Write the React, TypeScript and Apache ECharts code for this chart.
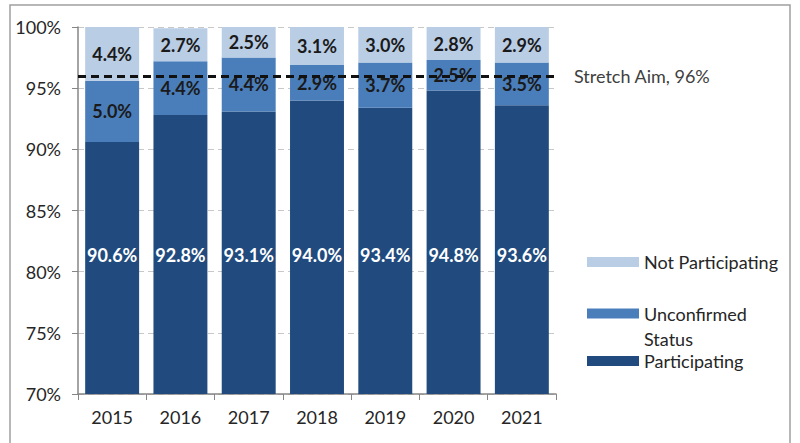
import React, { useEffect, useRef } from "react";
import * as echarts from "echarts";

const years = ["2015", "2016", "2017", "2018", "2019", "2020", "2021"];
const participating = [90.6, 92.8, 93.1, 94.0, 93.4, 94.8, 93.6];
const unconfirmed = [5.0, 4.4, 4.4, 2.9, 3.7, 2.5, 3.5];
const notParticipating = [4.4, 2.7, 2.5, 3.1, 3.0, 2.8, 2.9];
const stretchAim = 96;

const FONT = "Lato, 'Open Sans', sans-serif";
const C_DARK = "#214b7e";
const C_MID = "#4a7ebb";
const C_LIGHT = "#b9cde5";
const FS = 18;

export default function App() {
  const ref = useRef<HTMLDivElement>(null);
  useEffect(() => {
    if (!ref.current) return;
    const chart = echarts.init(ref.current, null, { renderer: "svg" });
    const fmt = (p: any) => Number(p.value).toFixed(1) + "%";
    const legendText = { fontFamily: FONT, fontSize: FS, color: "#262626" };
    chart.setOption({
      animation: false,
      textStyle: { fontFamily: FONT },
      grid: { left: 78, right: 244, top: 27, bottom: 49, containLabel: false },
      graphic: [
        {
          type: "rect",
          shape: { x: 10, y: 5, width: 780, height: 460 },
          style: { fill: "none", stroke: "#a0a0a0", lineWidth: 1.5 },
          silent: true,
        },
      ],
      legend: [
        {
          data: ["Not Participating"],
          orient: "vertical",
          left: 587,
          top: 253,
          padding: 0,
          itemWidth: 52,
          itemHeight: 10,
          icon: "rect",
          textStyle: legendText,
        },
        {
          data: ["Unconfirmed Status"],
          orient: "vertical",
          left: 587,
          top: 276,
          padding: 0,
          itemWidth: 52,
          itemHeight: 10,
          icon: "rect",
          formatter: () => "\nUnconfirmed\nStatus",
          textStyle: { ...legendText, lineHeight: 25 },
        },
        {
          data: ["Participating"],
          orient: "vertical",
          left: 587,
          top: 352,
          padding: 0,
          itemWidth: 52,
          itemHeight: 10,
          icon: "rect",
          textStyle: legendText,
        },
      ],
      xAxis: {
        type: "category",
        data: years,
        axisLine: { lineStyle: { color: "#868686", width: 1.5 } },
        axisTick: { show: true, length: 6, lineStyle: { color: "#868686" } },
        axisLabel: { fontFamily: FONT, fontSize: FS, color: "#262626", margin: 14 },
      },
      yAxis: {
        type: "value",
        min: 70,
        max: 100,
        interval: 5,
        axisLine: { show: true, lineStyle: { color: "#868686", width: 1.5 } },
        axisTick: { show: true, length: 6, lineStyle: { color: "#868686" } },
        axisLabel: {
          fontFamily: FONT,
          fontSize: FS,
          color: "#262626",
          margin: 17,
          formatter: (v: number) => v + "%",
        },
        splitLine: { show: true, lineStyle: { color: "#c8c8c8", type: [6, 4] } },
      },
      series: [
        {
          name: "Participating",
          type: "bar",
          stack: "s",
          data: participating,
          barCategoryGap: "21%",
          itemStyle: { color: C_DARK },
          label: {
            show: true,
            position: "insideBottom",
            distance: 130,
            formatter: fmt,
            color: "#ffffff",
            fontWeight: "bold",
            fontSize: FS,
            fontFamily: FONT,
          },
        },
        {
          name: "Unconfirmed Status",
          type: "bar",
          stack: "s",
          data: unconfirmed,
          itemStyle: { color: C_MID },
          label: {
            show: true,
            position: "inside",
            formatter: fmt,
            color: "#1a1a1a",
            fontWeight: "bold",
            fontSize: FS,
            fontFamily: FONT,
          },
        },
        {
          name: "Not Participating",
          type: "bar",
          stack: "s",
          data: notParticipating,
          itemStyle: { color: C_LIGHT },
          label: {
            show: true,
            position: "inside",
            formatter: fmt,
            color: "#1a1a1a",
            fontWeight: "bold",
            fontSize: FS,
            fontFamily: FONT,
          },
          markLine: {
            silent: true,
            symbol: "none",
            z: 10,
            data: [{ yAxis: stretchAim }],
            lineStyle: { color: "#111111", width: 3, type: [8, 5] },
            label: {
              show: true,
              position: "end",
              distance: 18,
              formatter: () => "Stretch Aim, " + stretchAim + "%",
              color: "#404040",
              fontSize: FS,
              fontFamily: FONT,
            },
          },
        },
      ],
    });
    return () => chart.dispose();
  }, []);
  return (
    <div
      ref={ref}
      style={{ position: "fixed", left: 0, top: 0, width: 800, height: 443, background: "#ffffff" }}
    />
  );
}
